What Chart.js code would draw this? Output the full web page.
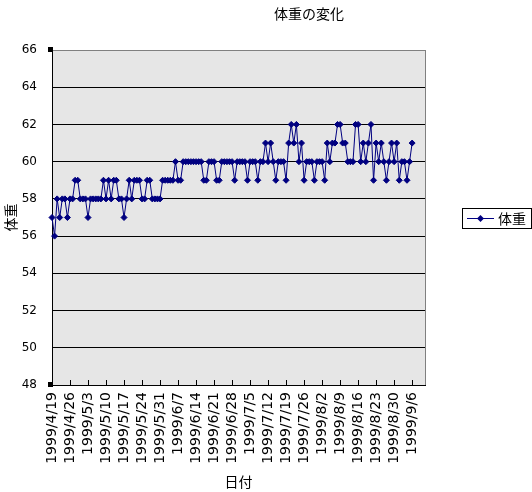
<!DOCTYPE html>
<html><head><meta charset="utf-8">
<script src="https://cdn.jsdelivr.net/npm/chart.js@4"></script>
<style>html,body{margin:0;padding:0;background:#fff}</style>
</head><body>
<canvas id="c" width="532" height="492"></canvas>
<script>
const chartTitle = '体重の変化';
const seriesName = '体重';
const xTitle = '日付';
const yTitle = '体重';
const axisDays = 146;          // date axis spans 1999/4/19 .. 1999/9/11
const labelEvery = 7;
const yMin = 48, yMax = 66, yStep = 2;

// daily weight, 1999/4/19 .. 1999/9/6
const weights = [
  57,56,58,57,58,58,57,58,58,59,
  59,58,58,58,57,58,58,58,58,58,
  59,58,59,58,59,59,58,58,57,58,
  59,58,59,59,59,58,58,59,59,58,
  58,58,58,59,59,59,59,59,60,59,
  59,60,60,60,60,60,60,60,60,59,
  59,60,60,60,59,59,60,60,60,60,
  60,59,60,60,60,60,59,60,60,60,
  59,60,60,61,60,61,60,59,60,60,
  60,59,61,62,61,62,60,61,59,60,
  60,60,59,60,60,60,59,61,60,61,
  61,62,62,61,61,60,60,60,62,62,
  60,61,60,61,62,59,61,60,61,60,
  59,60,61,60,61,59,60,60,59,60,61
];

const categories = [];
for (let i = 0; i < axisDays; i++) {
  const d = new Date(1999, 3, 19 + i);
  categories.push(d.getFullYear() + '/' + (d.getMonth() + 1) + '/' + d.getDate());
}

const NAVY = '#000080';
const CJK = '"Noto Sans CJK JP", sans-serif';

const decor = {
  id: 'decor',
  beforeDraw(chart) {
    const {ctx, chartArea: a} = chart;
    ctx.save();
    ctx.fillStyle = '#e6e6e6';
    ctx.fillRect(a.left, a.top, a.right - a.left, a.bottom - a.top);
    ctx.restore();
  },
  afterDraw(chart) {
    const {ctx, chartArea: a} = chart;
    const xs = chart.scales.x;
    ctx.save();
    // right border of plot area
    ctx.strokeStyle = '#808080';
    ctx.lineWidth = 1;
    ctx.beginPath();
    ctx.moveTo(Math.round(a.right) + 0.5, a.top);
    ctx.lineTo(Math.round(a.right) + 0.5, a.bottom);
    ctx.stroke();
    // inner tick marks on the date axis
    ctx.strokeStyle = '#000';
    ctx.beginPath();
    for (let i = 0; i < weights.length; i += labelEvery) {
      const px = Math.round(xs.getPixelForValue(i)) + 0.5;
      ctx.moveTo(px, a.bottom - 5);
      ctx.lineTo(px, a.bottom);
    }
    ctx.stroke();
    // corner handles
    ctx.fillStyle = '#000';
    ctx.fillRect(Math.round(a.left) - 4, Math.round(a.top) - 3, 5, 5);
    ctx.fillRect(Math.round(a.left) - 4, Math.round(a.bottom) - 3, 5, 5);
    // title
    ctx.fillStyle = '#000';
    ctx.font = '14px ' + CJK;
    ctx.textAlign = 'center';
    ctx.textBaseline = 'middle';
    ctx.fillText(chartTitle, 309, 14);
    // legend
    const lx = 462, ly = 208, lw = 69, lh = 20;
    ctx.strokeStyle = '#000';
    ctx.strokeRect(lx + 0.5, ly + 0.5, lw, lh);
    const cy = ly + lh / 2 + 0.5;
    ctx.strokeStyle = NAVY;
    ctx.beginPath();
    ctx.moveTo(467, cy);
    ctx.lineTo(494, cy);
    ctx.stroke();
    ctx.fillStyle = NAVY;
    ctx.beginPath();
    ctx.moveTo(480.5, cy - 3.5);
    ctx.lineTo(484, cy);
    ctx.lineTo(480.5, cy + 3.5);
    ctx.lineTo(477, cy);
    ctx.closePath();
    ctx.fill();
    ctx.fillStyle = '#000';
    ctx.textAlign = 'left';
    ctx.fillText(seriesName, 498, cy);
    ctx.restore();
  }
};

new Chart(document.getElementById('c'), {
  type: 'line',
  data: {
    labels: categories,
    datasets: [{
      label: seriesName,
      data: weights,
      borderColor: NAVY,
      backgroundColor: NAVY,
      borderWidth: 1,
      pointStyle: 'rectRot',
      pointRadius: 3,
      pointBorderWidth: 1,
      pointBackgroundColor: NAVY,
      pointBorderColor: NAVY,
      tension: 0,
      fill: false,
      clip: false
    }]
  },
  options: {
    responsive: false,
    animation: false,
    layout: {padding: {left: 0, right: 107, top: 50, bottom: 0}},
    plugins: {legend: {display: false}, title: {display: false}, tooltip: {enabled: false}},
    scales: {
      x: {
        type: 'category',
        offset: false,
        grid: {drawOnChartArea: false, drawTicks: false},
        border: {color: '#000', width: 1},
        ticks: {
          autoSkip: false, minRotation: 90, maxRotation: 90, padding: 7, color: '#000',
          font: {family: 'DejaVu Sans', size: 14},
          callback: (v, i) => (i % labelEvery === 0 && i < weights.length) ? categories[i] : null
        },
        title: {display: true, text: xTitle, color: '#000', font: {family: CJK, size: 14}, padding: {top: 0, bottom: 2}},
        afterFit: s => { s.height = 107; }
      },
      y: {
        min: yMin, max: yMax,
        ticks: {stepSize: yStep, padding: 15, color: '#000', font: {family: 'DejaVu Sans', size: 12}},
        grid: {color: c => (c.tick && c.tick.value === yMax) ? '#808080' : '#000', drawTicks: false, lineWidth: 1},
        border: {color: '#000', width: 1},
        title: {display: true, text: yTitle, color: '#000', font: {family: CJK, size: 14}, padding: {top: 2, bottom: 0}},
        afterFit: s => { s.width = 52; }
      }
    }
  },
  plugins: [decor]
});
</script>
</body></html>
